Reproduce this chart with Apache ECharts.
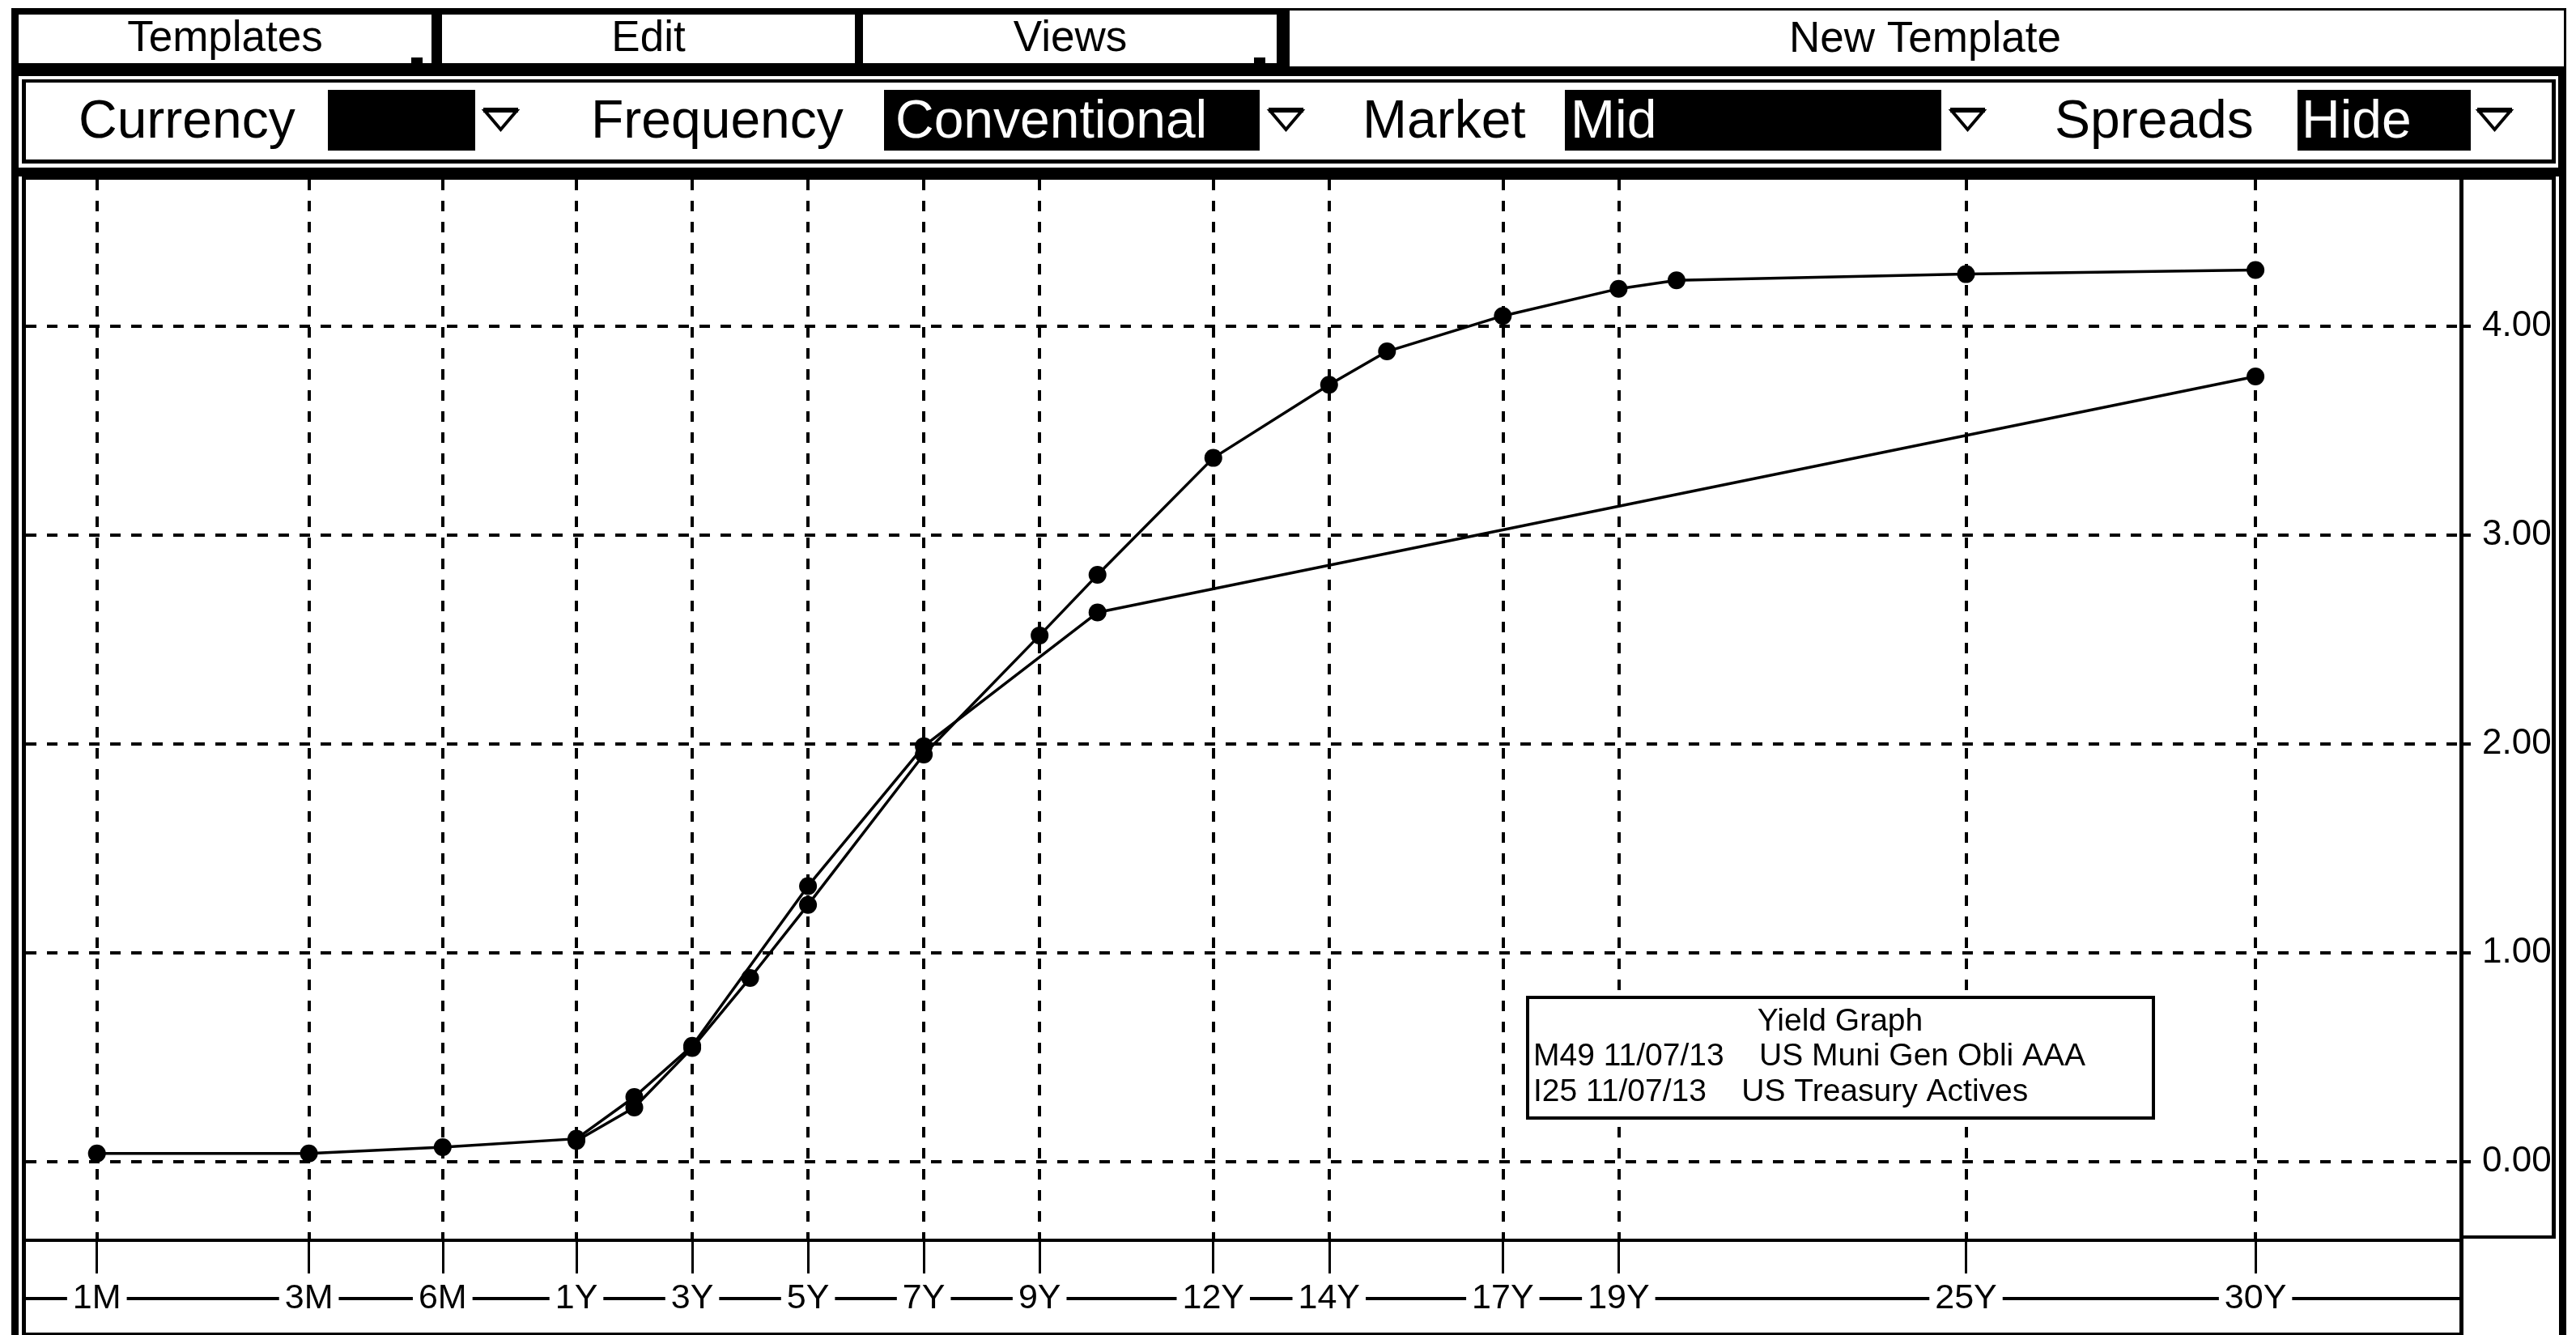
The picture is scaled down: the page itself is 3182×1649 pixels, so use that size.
<!DOCTYPE html>
<html>
<head>
<meta charset="utf-8">
<style>
  html, body { margin: 0; padding: 0; background: #ffffff; }
  #chart { width: 3182px; height: 1649px; }
</style>
<script src="https://cdn.jsdelivr.net/npm/echarts@6/dist/echarts.min.js"></script>
</head>
<body>
<div id="chart"></div>
<script>
// ---------------- data ----------------
const tickLabels = ['1M', '3M', '6M', '1Y', '3Y', '5Y', '7Y', '9Y', '12Y', '14Y', '17Y', '19Y', '25Y', '30Y'];
const tickTenors = [1 / 12, 0.25, 0.5, 1, 3, 5, 7, 9, 12, 14, 17, 19, 25, 30];

const yTicks = [0, 1, 2, 3, 4];

// M49 11/07/13 US Muni Gen Obli AAA
const muniTenors = [1, 2, 3, 4, 5, 7, 9, 10, 12, 14, 15, 17, 19, 20, 25, 30];
const muniYields = [0.10, 0.26, 0.545, 0.88, 1.23, 1.95, 2.52, 2.81, 3.37, 3.72, 3.88, 4.05, 4.18, 4.22, 4.25, 4.27];

// I25 11/07/13 US Treasury Actives
const tsyTenors = [1 / 12, 0.25, 0.5, 1, 2, 3, 5, 7, 10, 30];
const tsyYields = [0.04, 0.04, 0.07, 0.11, 0.31, 0.555, 1.32, 1.99, 2.63, 3.76];

const legendTitle = 'Yield Graph';
const legendLines = ['M49 11/07/13    US Muni Gen Obli AAA', 'I25 11/07/13    US Treasury Actives'];

// ---------------- axis scale (log below 1Y, linear in years above) ----------------
const SUB_YEAR_K = 2.31;
function axisPos(t) { return t >= 1 ? t : 1 + Math.log2(t) * SUB_YEAR_K; }
const tickPos = tickTenors.map(axisPos);
function tickLabel(v) {
  for (let i = 0; i < tickPos.length; i++) if (Math.abs(tickPos[i] - v) < 1e-6) return tickLabels[i];
  return '';
}
const X_MIN = -8.508, X_MAX = 33.55;
const Y_MIN = -0.376, Y_MAX = 4.702;

const FONT = 'Liberation Sans, Arial, Helvetica, sans-serif';
const dashed = { color: '#000', width: 4, type: [13, 13] };

function pairs(ts, ys) { return ts.map((t, i) => [axisPos(t), ys[i]]); }

// ---------------- graphic (window chrome) ----------------
const g = [];
function rect(x, y, w, h, fill, z) { g.push({ type: 'rect', shape: { x, y, width: w, height: h }, style: { fill }, z: z, silent: true }); }
function text(x, y, s, size, fill, align, z) {
  g.push({ type: 'text', x, y, style: { text: s, fill, font: size + 'px ' + FONT, textAlign: align || 'left', textVerticalAlign: 'middle' }, z: z, silent: true });
}
function arrow(x, z) {
  g.push({ type: 'polygon', shape: { points: [[x + 2, 137], [x + 41, 137], [x + 21.5, 160]] }, style: { fill: '#fff', stroke: '#000', lineWidth: 4 }, z: z, silent: true });
  rect(x, 133, 43, 6, '#000', z);
}

// black window background
rect(14, 10, 3156, 1639, '#000', -20);
// row 1 buttons
rect(23, 18, 510, 60, '#fff', -19);
rect(546, 18, 510, 60, '#fff', -19);
rect(1066, 18, 511, 60, '#fff', -19);
rect(1593, 13, 1574, 69, '#fff', -19);
rect(508, 71, 14, 7, '#000', -18);
rect(1549, 71, 14, 7, '#000', -18);
text(278, 48, 'Templates', 53, '#000', 'center', -18);
text(801, 48, 'Edit', 53, '#000', 'center', -18);
text(1322, 48, 'Views', 53, '#000', 'center', -18);
text(2378, 49, 'New Template', 53, '#000', 'center', -18);
// row 2 panel
rect(23, 94, 3137, 113, '#fff', -19);
rect(27, 98, 3130, 104, '#000', -18);
rect(32, 102, 3120, 95, '#fff', -17);
text(97, 152, 'Currency', 66, '#000', 'left', -16);
rect(405, 111, 182, 75, '#000', -16);
arrow(597, -16);
text(730, 152, 'Frequency', 66, '#000', 'left', -16);
rect(1092, 111, 464, 75, '#000', -16);
text(1106, 152, 'Conventional', 66, '#fff', 'left', -15);
arrow(1567, -16);
text(1683, 152, 'Market', 66, '#000', 'left', -16);
rect(1933, 111, 465, 75, '#000', -16);
text(1940, 152, 'Mid', 66, '#fff', 'left', -15);
arrow(2409, -16);
text(2538, 152, 'Spreads', 66, '#000', 'left', -16);
rect(2838, 111, 214, 75, '#000', -16);
text(2843, 152, 'Hide', 66, '#fff', 'left', -15);
arrow(3060, -16);
// chart panel
rect(23, 218, 3138, 1431, '#fff', -19);
rect(27, 218, 3130, 1431, '#000', -18);
rect(32, 222, 3120, 1424, '#fff', -17);
rect(3043, 1529, 118, 120, '#fff', -16);
rect(3043, 1526, 114, 4, '#000', -15);
rect(3038, 1530, 5, 119, '#000', 40);
// legend box
g.push({ type: 'rect', shape: { x: 1887, y: 1232, width: 773, height: 149 }, style: { fill: '#fff', stroke: '#000', lineWidth: 4 }, z: 50, silent: true });
text(2273, 1262, legendTitle, 39, '#000', 'center', 51);
text(1894, 1305, legendLines[0], 39, '#000', 'left', 51);
text(1894, 1349, legendLines[1], 39, '#000', 'left', 51);

// ---------------- chart ----------------
const chart = echarts.init(document.getElementById('chart'));
const seriesStyle = {
  type: 'line',
  xAxisIndex: 0, yAxisIndex: 0,
  symbol: 'circle', symbolSize: 22,
  showSymbol: true,
  lineStyle: { color: '#000', width: 3.5 },
  itemStyle: { color: '#000' },
  z: 10,
  animation: false
};
chart.setOption({
  animation: false,
  grid: [
    { left: 32, right: 142, top: 222, bottom: 117, containLabel: false },
    { left: 32, right: 142, top: 1532, bottom: 45, containLabel: false }
  ],
  xAxis: [
    {
      type: 'value', gridIndex: 0, min: X_MIN, max: X_MAX,
      axisLine: { show: false },
      axisTick: { show: false, customValues: tickPos },
      axisLabel: { show: false, customValues: tickPos },
      splitLine: { show: true, lineStyle: dashed }
    },
    {
      type: 'value', gridIndex: 1, position: 'top', min: X_MIN, max: X_MAX,
      axisLine: { show: true, onZero: false, lineStyle: { color: '#000', width: 4 } },
      axisTick: { show: true, inside: true, length: 41, customValues: tickPos, lineStyle: { color: '#000', width: 3 } },
      axisLabel: { show: false, customValues: tickPos },
      splitLine: { show: false }
    },
    {
      type: 'value', gridIndex: 1, position: 'bottom', min: X_MIN, max: X_MAX,
      axisLine: { show: true, onZero: false, lineStyle: { color: '#000', width: 4 } },
      axisTick: { show: false, customValues: tickPos },
      axisLabel: {
        show: true, customValues: tickPos, formatter: tickLabel,
        color: '#000', fontFamily: FONT, fontSize: 43,
        margin: 0, verticalAlign: 'middle',
        backgroundColor: '#fff', padding: [2, 7, 2, 7]
      },
      splitLine: { show: false }
    }
  ],
  yAxis: [
    {
      type: 'value', gridIndex: 0, position: 'right', min: Y_MIN, max: Y_MAX,
      axisLine: { show: true, onZero: false, lineStyle: { color: '#000', width: 5 } },
      axisTick: { show: true, length: 12, customValues: yTicks, lineStyle: { color: '#000', width: 4 } },
      axisLabel: {
        show: true, customValues: yTicks, formatter: v => v.toFixed(2),
        color: '#000', fontFamily: FONT, fontSize: 44, margin: 26,
        verticalAlign: 'middle', padding: [0, 0, 18, 0]
      },
      splitLine: { show: true, lineStyle: dashed }
    },
    { type: 'value', gridIndex: 1, min: 0, max: 1, show: false }
  ],
  graphic: { elements: g },
  series: [
    Object.assign({ name: 'US Muni Gen Obli AAA', data: pairs(muniTenors, muniYields) }, seriesStyle),
    Object.assign({ name: 'US Treasury Actives', data: pairs(tsyTenors, tsyYields) }, seriesStyle)
  ]
});
</script>
</body>
</html>
